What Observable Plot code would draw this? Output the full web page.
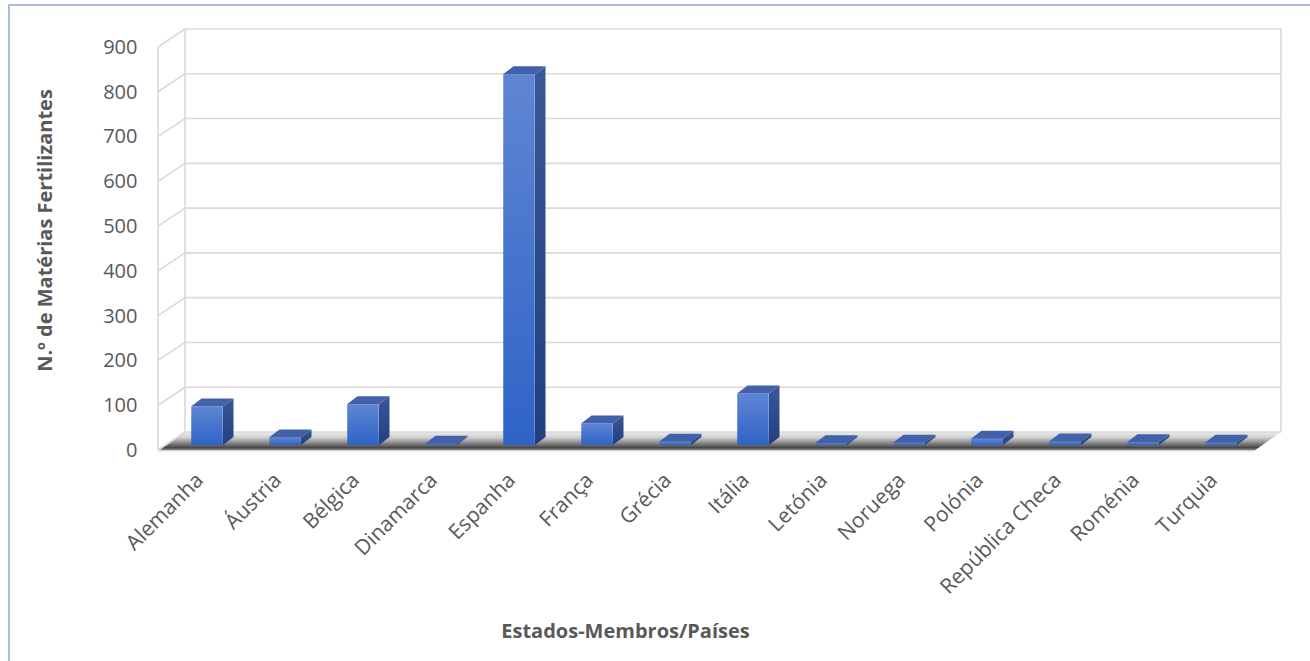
<!DOCTYPE html>
<html>
<head>
<meta charset="utf-8">
<script src="https://cdn.jsdelivr.net/npm/d3@7"></script>
<script src="https://cdn.jsdelivr.net/npm/@observablehq/plot@0.6"></script>
<style>
html, body { margin: 0; padding: 0; background: #fff; overflow: hidden; }
#frame { position: absolute; left: 8px; top: 4px; width: 1400px; height: 700px;
  border-top: 2px solid #a9bce8; border-left: 2px solid #a9bce8; }
#chart { position: absolute; left: 0; top: 0; }
</style>
</head>
<body>
<svg width="0" height="0" style="position:absolute">
  <defs>
    <linearGradient id="frontGrad" x1="0" y1="0" x2="0" y2="1">
      <stop offset="0" stop-color="#5f86d3"/>
      <stop offset="1" stop-color="#2e63c6"/>
    </linearGradient>
    <linearGradient id="sideGrad" x1="0" y1="0" x2="0" y2="1">
      <stop offset="0" stop-color="#3a5896"/>
      <stop offset="1" stop-color="#213f7f"/>
    </linearGradient>
    <linearGradient id="floorGrad" gradientUnits="userSpaceOnUse" x1="0" y1="431" x2="0" y2="452">
      <stop offset="0" stop-color="#f0f0f0"/>
      <stop offset="0.3" stop-color="#d2d2d2"/>
      <stop offset="0.6" stop-color="#808080"/>
      <stop offset="0.8" stop-color="#454545"/>
      <stop offset="0.9" stop-color="#888888"/>
      <stop offset="1" stop-color="#e2e2e2"/>
    </linearGradient>
  </defs>
</svg>
<div id="frame"></div>
<div id="chart"></div>
<script>
const categories = ["Alemanha", "Áustria", "Bélgica", "Dinamarca", "Espanha", "França", "Grécia",
  "Itália", "Letónia", "Noruega", "Polónia", "República Checa", "Roménia", "Turquia"];
const values = [86, 17, 91, 3, 828, 48, 7, 115, 4, 5, 14, 8, 6, 5];
const yTicks = [0, 100, 200, 300, 400, 500, 600, 700, 800, 900];
const yTitle = "N.º de Matérias Fertilizantes";
const xTitle = "Estados-Membros/Países";

const data = categories.map((name, i) => ({name, value: values[i]}));

// 3D geometry (pixels)
const WALL_DX = 27, WALL_DY = -18;
const FRONT_DX = 4, FRONT_DY = -5;
const DEPTH_DX = 10.5, DEPTH_DY = -8;
const BAR_W = 32;
const TEXT = "#595959";
const FONT = "Open Sans";

function walls(index, scales, values, dimensions) {
  const {y} = scales;
  const {marginLeft, marginRight, width} = dimensions;
  const xF = marginLeft - 2, xB = xF + WALL_DX, xR = width - marginRight + 22;
  const g = d3.create("svg:g");
  const y0 = y(0), yTop = y(yTicks[yTicks.length - 1]);
  // floor
  g.append("path")
    .attr("d", `M${xB},${y0 + WALL_DY}L${xR},${y0 + WALL_DY}L${xR - WALL_DX},${y0 + 1}L${xF},${y0 + 1}Z`)
    .attr("fill", "url(#floorGrad)");
  const lines = g.append("g").attr("fill", "none").attr("stroke", "#d9d9d9").attr("stroke-width", 1.6);
  for (const v of yTicks) {
    const yv = y(v);
    lines.append("line").attr("x1", xB).attr("x2", xR).attr("y1", yv + WALL_DY).attr("y2", yv + WALL_DY);
    lines.append("line").attr("x1", xF).attr("x2", xB).attr("y1", yv).attr("y2", yv + WALL_DY);
  }
  lines.append("line").attr("x1", xF).attr("x2", xF).attr("y1", yTop).attr("y2", y0);
  lines.append("line").attr("x1", xB).attr("x2", xB).attr("y1", yTop + WALL_DY).attr("y2", y0 + WALL_DY);
  lines.append("line").attr("x1", xR).attr("x2", xR).attr("y1", yTop + WALL_DY).attr("y2", y0 + WALL_DY);
  lines.append("line").attr("x1", xF).attr("x2", xR - WALL_DX).attr("y1", y0 + 1).attr("y2", y0 + 1)
    .attr("stroke", "#e4e4e4");
  return g.node();
}

function bars3d(index, scales) {
  const {x, y} = scales;
  const bw = x.bandwidth();
  const g = d3.create("svg:g");
  for (const d of data) {
    const xl = x(d.name) + bw / 2 + FRONT_DX - BAR_W / 2, xr = xl + BAR_W;
    const yb = y(0) + FRONT_DY, yt = y(d.value) + FRONT_DY;
    g.append("path")
      .attr("d", `M${xr},${yb}L${xr + DEPTH_DX},${yb + DEPTH_DY}L${xr + DEPTH_DX},${yt + DEPTH_DY}L${xr},${yt}Z`)
      .attr("fill", "url(#sideGrad)");
    g.append("path")
      .attr("d", `M${xl},${yt}L${xr},${yt}L${xr + DEPTH_DX},${yt + DEPTH_DY}L${xl + DEPTH_DX},${yt + DEPTH_DY}Z`)
      .attr("fill", "#4162ab");
  }
  return g.node();
}

const width = 1310, height = 661;
const marginLeft = 160, marginRight = 51, marginTop = 47, marginBottom = 211;
const step = (width - marginLeft - marginRight) / categories.length;

const plot = Plot.plot({
  width, height, marginLeft, marginRight, marginTop, marginBottom,
  style: {fontFamily: FONT, background: "transparent", overflow: "visible"},
  x: {domain: categories, padding: 0, axis: null},
  y: {domain: [0, 900], axis: null},
  marks: [
    walls,
    Plot.barY(data, {
      x: "name", y: "value", fill: "url(#frontGrad)",
      dx: FRONT_DX, dy: FRONT_DY,
      insetLeft: (step - BAR_W) / 2, insetRight: (step - BAR_W) / 2
    }),
    bars3d,
    Plot.text(yTicks, {
      y: d => d, text: d => String(d), frameAnchor: "left", dx: -23,
      textAnchor: "end", fontSize: 20, fill: TEXT, fontFamily: FONT
    }),
    Plot.text(categories, {
      x: d => d, text: d => d, frameAnchor: "bottom", dx: 1, dy: 31, rotate: -45,
      textAnchor: "end", fontSize: 21, fill: TEXT, fontFamily: FONT
    }),
    Plot.text([yTitle], {
      text: d => d, frameAnchor: "left", dx: -115, dy: -18.5, rotate: -90,
      textAnchor: "middle",
      fontSize: 20, fontWeight: "bold", fill: TEXT, fontFamily: FONT
    }),
    Plot.text([xTitle], {
      text: d => d, frameAnchor: "bottom", dx: -84.5, dy: 187,
      textAnchor: "middle",
      fontSize: 20, fontWeight: "bold", fill: TEXT, fontFamily: FONT
    })
  ]
});
document.getElementById("chart").appendChild(plot);
</script>
</body>
</html>
